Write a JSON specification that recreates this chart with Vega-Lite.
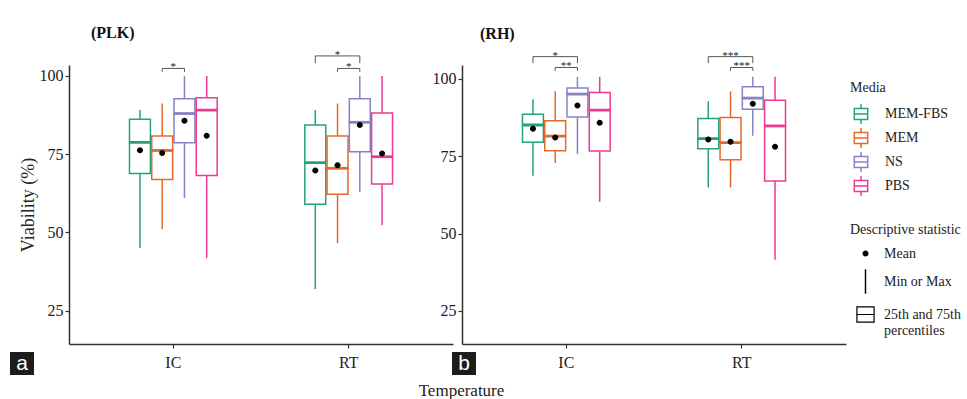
{
  "$schema": "https://vega.github.io/schema/vega-lite/v6.json",
  "padding": {"left": 10, "top": 24, "right": 2, "bottom": 4},
  "bounds": "flush",
  "spacing": 9,
  "title": {"text": "Temperature", "orient": "bottom", "anchor": "middle", "fontSize": 17, "fontWeight": "normal", "color": "#222", "offset": 8, "dx": -24},
  "datasets": {
    "boxes": [
      {"panel": "PLK", "temp": "IC", "media": "MEM-FBS", "min": 45.0, "q1": 68.8, "median": 78.8, "q3": 86.2, "max": 89.1, "mean": 76.3},
      {"panel": "PLK", "temp": "IC", "media": "MEM", "min": 51.1, "q1": 66.9, "median": 76.2, "q3": 80.8, "max": 91.2, "mean": 75.4},
      {"panel": "PLK", "temp": "IC", "media": "NS", "min": 61.0, "q1": 78.7, "median": 88.0, "q3": 92.7, "max": 100, "mean": 85.7},
      {"panel": "PLK", "temp": "IC", "media": "PBS", "min": 41.8, "q1": 68.2, "median": 89.1, "q3": 93.0, "max": 100, "mean": 80.9},
      {"panel": "PLK", "temp": "RT", "media": "MEM-FBS", "min": 31.9, "q1": 59.0, "median": 72.3, "q3": 84.3, "max": 89.1, "mean": 69.8},
      {"panel": "PLK", "temp": "RT", "media": "MEM", "min": 46.6, "q1": 62.2, "median": 70.5, "q3": 80.8, "max": 91.2, "mean": 71.5},
      {"panel": "PLK", "temp": "RT", "media": "NS", "min": 62.9, "q1": 75.8, "median": 85.2, "q3": 92.7, "max": 100, "mean": 84.3},
      {"panel": "PLK", "temp": "RT", "media": "PBS", "min": 52.3, "q1": 65.5, "median": 74.2, "q3": 88.2, "max": 100, "mean": 75.2},
      {"panel": "RH", "temp": "IC", "media": "MEM-FBS", "min": 68.7, "q1": 79.5, "median": 85.1, "q3": 88.6, "max": 93.4, "mean": 83.9},
      {"panel": "RH", "temp": "IC", "media": "MEM", "min": 72.8, "q1": 76.8, "median": 81.5, "q3": 86.5, "max": 96.0, "mean": 81.1},
      {"panel": "RH", "temp": "IC", "media": "NS", "min": 75.7, "q1": 87.7, "median": 95.1, "q3": 97.1, "max": 100.7, "mean": 91.4},
      {"panel": "RH", "temp": "IC", "media": "PBS", "min": 60.3, "q1": 76.7, "median": 89.9, "q3": 95.6, "max": 100.7, "mean": 85.8},
      {"panel": "RH", "temp": "RT", "media": "MEM-FBS", "min": 64.9, "q1": 77.4, "median": 80.7, "q3": 87.2, "max": 92.8, "mean": 80.4},
      {"panel": "RH", "temp": "RT", "media": "MEM", "min": 64.9, "q1": 73.9, "median": 79.4, "q3": 87.5, "max": 96.0, "mean": 79.7},
      {"panel": "RH", "temp": "RT", "media": "NS", "min": 81.6, "q1": 90.2, "median": 93.8, "q3": 97.5, "max": 100.7, "mean": 92.0},
      {"panel": "RH", "temp": "RT", "media": "PBS", "min": 41.5, "q1": 67.0, "median": 84.8, "q3": 93.1, "max": 100.7, "mean": 78.1}
    ],
    "brackets": [
      {"panel": "PLK", "temp": "IC", "id": "p1", "o": 0, "media": "MEM", "v": 101.3},
      {"panel": "PLK", "temp": "IC", "id": "p1", "o": 1, "media": "MEM", "v": 102.4},
      {"panel": "PLK", "temp": "IC", "id": "p1", "o": 2, "media": "NS", "v": 102.4},
      {"panel": "PLK", "temp": "IC", "id": "p1", "o": 3, "media": "NS", "v": 101.3},
      {"panel": "PLK", "temp": "RT", "id": "p2", "o": 0, "media": "MEM-FBS", "v": 104.1},
      {"panel": "PLK", "temp": "RT", "id": "p2", "o": 1, "media": "MEM-FBS", "v": 106.4},
      {"panel": "PLK", "temp": "RT", "id": "p2", "o": 2, "media": "NS", "v": 106.4},
      {"panel": "PLK", "temp": "RT", "id": "p2", "o": 3, "media": "NS", "v": 104.1},
      {"panel": "PLK", "temp": "RT", "id": "p3", "o": 0, "media": "MEM", "v": 101.3},
      {"panel": "PLK", "temp": "RT", "id": "p3", "o": 1, "media": "MEM", "v": 102.4},
      {"panel": "PLK", "temp": "RT", "id": "p3", "o": 2, "media": "NS", "v": 102.4},
      {"panel": "PLK", "temp": "RT", "id": "p3", "o": 3, "media": "NS", "v": 101.3},
      {"panel": "RH", "temp": "IC", "id": "r1", "o": 0, "media": "MEM-FBS", "v": 105.1},
      {"panel": "RH", "temp": "IC", "id": "r1", "o": 1, "media": "MEM-FBS", "v": 107.2},
      {"panel": "RH", "temp": "IC", "id": "r1", "o": 2, "media": "NS", "v": 107.2},
      {"panel": "RH", "temp": "IC", "id": "r1", "o": 3, "media": "NS", "v": 105.1},
      {"panel": "RH", "temp": "IC", "id": "r2", "o": 0, "media": "MEM", "v": 102.6},
      {"panel": "RH", "temp": "IC", "id": "r2", "o": 1, "media": "MEM", "v": 103.7},
      {"panel": "RH", "temp": "IC", "id": "r2", "o": 2, "media": "NS", "v": 103.7},
      {"panel": "RH", "temp": "IC", "id": "r2", "o": 3, "media": "NS", "v": 102.6},
      {"panel": "RH", "temp": "RT", "id": "r3", "o": 0, "media": "MEM-FBS", "v": 105.1},
      {"panel": "RH", "temp": "RT", "id": "r3", "o": 1, "media": "MEM-FBS", "v": 107.2},
      {"panel": "RH", "temp": "RT", "id": "r3", "o": 2, "media": "NS", "v": 107.2},
      {"panel": "RH", "temp": "RT", "id": "r3", "o": 3, "media": "NS", "v": 105.1},
      {"panel": "RH", "temp": "RT", "id": "r4", "o": 0, "media": "MEM", "v": 102.6},
      {"panel": "RH", "temp": "RT", "id": "r4", "o": 1, "media": "MEM", "v": 103.7},
      {"panel": "RH", "temp": "RT", "id": "r4", "o": 2, "media": "NS", "v": 103.7},
      {"panel": "RH", "temp": "RT", "id": "r4", "o": 3, "media": "NS", "v": 102.6}
    ],
    "stars": [
      {"panel": "PLK", "temp": "IC", "at": "center", "media": "MEM", "v": 102.4, "label": "*"},
      {"panel": "PLK", "temp": "RT", "at": "media", "media": "MEM", "v": 106.4, "label": "*"},
      {"panel": "PLK", "temp": "RT", "at": "center", "media": "MEM", "v": 102.4, "label": "*"},
      {"panel": "RH", "temp": "IC", "at": "media", "media": "MEM", "v": 107.2, "label": "*"},
      {"panel": "RH", "temp": "IC", "at": "center", "media": "MEM", "v": 103.7, "label": "**"},
      {"panel": "RH", "temp": "RT", "at": "media", "media": "MEM", "v": 107.2, "label": "***"},
      {"panel": "RH", "temp": "RT", "at": "center", "media": "MEM", "v": 103.7, "label": "***"}
    ]
  },
  "hconcat": [
    {
      "width": 384, "height": 279,
      "title": {"text": "(PLK)", "anchor": "start", "frame": "group", "dx": 22, "fontSize": 16, "fontWeight": "bold", "offset": 8, "color": "#111"},
      "layer": [
        {
          "data": {"name": "boxes"}, "transform": [{"filter": "datum.panel == 'PLK'"}],
          "mark": {"type": "rule", "strokeWidth": 1.5},
          "encoding": {
            "x": {"field": "temp", "type": "nominal", "scale": {"domain": ["IC", "RT"], "paddingInner": 0.5, "paddingOuter": 0.345}, "axis": {"title": null, "labelAngle": 0}},
            "xOffset": {"field": "media", "type": "nominal", "scale": {"domain": ["MEM-FBS", "MEM", "NS", "PBS"], "paddingInner": 0.06, "paddingOuter": 0}},
            "y": {"field": "min", "type": "quantitative", "title": "Viability (%)", "scale": {"domain": [14.37, 103.5], "nice": false, "zero": false}, "axis": {"values": [25, 50, 75, 100]}},
            "y2": {"field": "max"},
            "stroke": {"field": "media", "type": "nominal", "scale": {"domain": ["MEM-FBS", "MEM", "NS", "PBS"], "range": ["#23A27B", "#E5692A", "#8782C6", "#EC3A94"]},
              "legend": {"title": ["", "Media"], "titleLineHeight": 16, "symbolType": "M0,-1V-0.55M-0.67,-0.55H0.67V0.55H-0.67ZM-0.67,0H0.67M0,0.55V1", "symbolSize": 400, "symbolFillColor": "white", "symbolStrokeWidth": 1.5, "rowPadding": -2, "labelOffset": 13, "titlePadding": 8, "padding": 0, "offset": 4}}
          }
        },
        {
          "data": {"name": "boxes"}, "transform": [{"filter": "datum.panel == 'PLK'"}],
          "mark": {"type": "bar", "fill": "white", "strokeWidth": 1.5},
          "encoding": {
            "x": {"field": "temp", "type": "nominal"},
            "xOffset": {"field": "media", "type": "nominal"},
            "y": {"field": "q1", "type": "quantitative", "title": "Viability (%)"},
            "y2": {"field": "q3"},
            "stroke": {"field": "media", "type": "nominal"}
          }
        },
        {
          "data": {"name": "boxes"}, "transform": [{"filter": "datum.panel == 'PLK'"}],
          "mark": {"type": "tick", "filled": false, "thickness": 1.2, "strokeWidth": 1.6, "size": 20.6, "orient": "horizontal", "opacity": 1},
          "encoding": {
            "x": {"field": "temp", "type": "nominal"},
            "xOffset": {"field": "media", "type": "nominal"},
            "y": {"field": "median", "type": "quantitative", "title": "Viability (%)"},
            "stroke": {"field": "media", "type": "nominal"},
            "opacity": {"datum": "a", "type": "ordinal", "scale": {"range": [1, 1]},
              "legend": {"title": "a", "orient": "none", "legendX": -59, "legendY": 287, "fillColor": "#1c1c1c", "padding": 1, "titleColor": "white", "titleFont": "Liberation Sans", "titleFontSize": 21, "titleFontWeight": "normal", "titleAnchor": "middle", "titlePadding": -2, "symbolSize": 0, "symbolOpacity": 0, "symbolStrokeWidth": 0, "labelExpr": "''", "labelFontSize": 1, "labelOffset": 21, "rowPadding": 0}}
          }
        },
        {
          "data": {"name": "boxes"}, "transform": [{"filter": "datum.panel == 'PLK'"}],
          "mark": {"type": "point", "filled": true, "color": "black", "opacity": 1, "size": 600},
          "encoding": {
            "x": {"field": "temp", "type": "nominal"},
            "xOffset": {"field": "media", "type": "nominal"},
            "y": {"field": "mean", "type": "quantitative", "title": "Viability (%)"},
            "shape": {"datum": "Mean", "type": "nominal",
              "scale": {"domain": ["Mean", "Min or Max", "25th and 75th percentiles"], "range": ["M-0.245,0A0.245,0.245 0 1,0 0.245,0A0.245,0.245 0 1,0 -0.245,0Z", "M-0.06,-1H0.06V1H-0.06Z", "M-0.75,-0.68H0.75V0.68H-0.75ZM-0.65,-0.58V-0.05H0.65V-0.58ZM-0.65,0.05V0.58H0.65V0.05Z"]},
              "legend": {"title": ["", "Descriptive statistic"], "titleLineHeight": 16, "symbolSize": 600, "symbolFillColor": "black", "symbolStrokeColor": "black", "symbolStrokeWidth": 0, "symbolOffset": 3, "rowPadding": 8, "labelOffset": 6, "titlePadding": 4, "padding": 0, "offset": 4,
                "labelExpr": "datum.label == '25th and 75th percentiles' ? ['25th and 75th', 'percentiles'] : datum.label"}}
          }
        },
        {
          "data": {"name": "brackets"}, "transform": [{"filter": "datum.panel == 'PLK'"}],
          "mark": {"type": "line", "color": "#555", "strokeWidth": 1},
          "encoding": {
            "x": {"field": "temp", "type": "nominal"},
            "xOffset": {"field": "media", "type": "nominal"},
            "y": {"field": "v", "type": "quantitative", "title": "Viability (%)"},
            "detail": {"field": "id"},
            "order": {"field": "o"}
          }
        },
        {
          "data": {"name": "stars"}, "transform": [{"filter": "datum.panel == 'PLK' && datum.at == 'media'"}],
          "mark": {"type": "text", "fontSize": 11, "baseline": "alphabetic", "dy": 2, "color": "#222"},
          "encoding": {
            "x": {"field": "temp", "type": "nominal"},
            "xOffset": {"field": "media", "type": "nominal"},
            "y": {"field": "v", "type": "quantitative", "title": "Viability (%)"},
            "text": {"field": "label"}
          }
        },
        {
          "data": {"name": "stars"}, "transform": [{"filter": "datum.panel == 'PLK' && datum.at == 'center'"}],
          "mark": {"type": "text", "fontSize": 11, "baseline": "alphabetic", "dy": 2, "color": "#222"},
          "encoding": {
            "x": {"field": "temp", "type": "nominal"},
            "y": {"field": "v", "type": "quantitative", "title": "Viability (%)"},
            "text": {"field": "label"}
          }
        }
      ]
    },
    {
      "width": 384, "height": 279,
      "title": {"text": "(RH)", "anchor": "start", "frame": "group", "dx": 18, "fontSize": 16, "fontWeight": "bold", "offset": 8, "color": "#111"},
      "layer": [
        {
          "data": {"name": "boxes"}, "transform": [{"filter": "datum.panel == 'RH'"}],
          "mark": {"type": "rule", "strokeWidth": 1.5},
          "encoding": {
            "x": {"field": "temp", "type": "nominal", "scale": {"domain": ["IC", "RT"], "paddingInner": 0.5, "paddingOuter": 0.345}, "axis": {"title": null, "labelAngle": 0}},
            "xOffset": {"field": "media", "type": "nominal", "scale": {"domain": ["MEM-FBS", "MEM", "NS", "PBS"], "paddingInner": 0.06, "paddingOuter": 0}},
            "y": {"field": "min", "type": "quantitative", "title": null, "scale": {"domain": [14.3, 104.5], "nice": false, "zero": false}, "axis": {"values": [25, 50, 75, 100]}},
            "y2": {"field": "max"},
            "stroke": {"field": "media", "type": "nominal",
              "legend": {"title": ["", "Media"], "titleLineHeight": 16, "symbolType": "M0,-1V-0.55M-0.67,-0.55H0.67V0.55H-0.67ZM-0.67,0H0.67M0,0.55V1", "symbolSize": 400, "symbolFillColor": "white", "symbolStrokeWidth": 1.5, "rowPadding": -2, "labelOffset": 13, "titlePadding": 8, "padding": 0, "offset": 4}}
          }
        },
        {
          "data": {"name": "boxes"}, "transform": [{"filter": "datum.panel == 'RH'"}],
          "mark": {"type": "bar", "fill": "white", "strokeWidth": 1.5},
          "encoding": {
            "x": {"field": "temp", "type": "nominal"},
            "xOffset": {"field": "media", "type": "nominal"},
            "y": {"field": "q1", "type": "quantitative", "title": null},
            "y2": {"field": "q3"},
            "stroke": {"field": "media", "type": "nominal"}
          }
        },
        {
          "data": {"name": "boxes"}, "transform": [{"filter": "datum.panel == 'RH'"}],
          "mark": {"type": "tick", "filled": false, "thickness": 1.2, "strokeWidth": 1.6, "size": 20.6, "orient": "horizontal", "opacity": 1},
          "encoding": {
            "x": {"field": "temp", "type": "nominal"},
            "xOffset": {"field": "media", "type": "nominal"},
            "y": {"field": "median", "type": "quantitative", "title": null},
            "stroke": {"field": "media", "type": "nominal"},
            "opacity": {"datum": "b", "type": "ordinal", "scale": {"range": [1, 1]},
              "legend": {"title": "b", "orient": "none", "legendX": -10, "legendY": 287, "fillColor": "#1c1c1c", "padding": 1, "titleColor": "white", "titleFont": "Liberation Sans", "titleFontSize": 21, "titleFontWeight": "normal", "titleAnchor": "middle", "titlePadding": -2, "symbolSize": 0, "symbolOpacity": 0, "symbolStrokeWidth": 0, "labelExpr": "''", "labelFontSize": 1, "labelOffset": 21, "rowPadding": 0}}
          }
        },
        {
          "data": {"name": "boxes"}, "transform": [{"filter": "datum.panel == 'RH'"}],
          "mark": {"type": "point", "filled": true, "color": "black", "opacity": 1, "size": 600},
          "encoding": {
            "x": {"field": "temp", "type": "nominal"},
            "xOffset": {"field": "media", "type": "nominal"},
            "y": {"field": "mean", "type": "quantitative", "title": null},
            "shape": {"datum": "Mean", "type": "nominal",
              "legend": {"title": ["", "Descriptive statistic"], "titleLineHeight": 16, "symbolSize": 600, "symbolFillColor": "black", "symbolStrokeColor": "black", "symbolStrokeWidth": 0, "symbolOffset": 3, "rowPadding": 8, "labelOffset": 6, "titlePadding": 4, "padding": 0, "offset": 4,
                "labelExpr": "datum.label == '25th and 75th percentiles' ? ['25th and 75th', 'percentiles'] : datum.label"}}
          }
        },
        {
          "data": {"name": "brackets"}, "transform": [{"filter": "datum.panel == 'RH'"}],
          "mark": {"type": "line", "color": "#555", "strokeWidth": 1},
          "encoding": {
            "x": {"field": "temp", "type": "nominal"},
            "xOffset": {"field": "media", "type": "nominal"},
            "y": {"field": "v", "type": "quantitative", "title": null},
            "detail": {"field": "id"},
            "order": {"field": "o"}
          }
        },
        {
          "data": {"name": "stars"}, "transform": [{"filter": "datum.panel == 'RH' && datum.at == 'media'"}],
          "mark": {"type": "text", "fontSize": 11, "baseline": "alphabetic", "dy": 2, "color": "#222"},
          "encoding": {
            "x": {"field": "temp", "type": "nominal"},
            "xOffset": {"field": "media", "type": "nominal"},
            "y": {"field": "v", "type": "quantitative", "title": null},
            "text": {"field": "label"}
          }
        },
        {
          "data": {"name": "stars"}, "transform": [{"filter": "datum.panel == 'RH' && datum.at == 'center'"}],
          "mark": {"type": "text", "fontSize": 11, "baseline": "alphabetic", "dy": 2, "color": "#222"},
          "encoding": {
            "x": {"field": "temp", "type": "nominal"},
            "y": {"field": "v", "type": "quantitative", "title": null},
            "text": {"field": "label"}
          }
        }
      ]
    }
  ],
  "resolve": {"scale": {"y": "independent", "opacity": "independent"}, "legend": {"opacity": "independent"}},
  "config": {
    "font": "Liberation Serif",
    "view": {"stroke": null},
    "axis": {"grid": false, "domainColor": "#333", "domainWidth": 1.5, "tickColor": "#333", "tickSize": 4, "tickWidth": 1.2, "labelColor": "#222", "labelFontSize": 16, "labelPadding": 2, "titleFontSize": 18, "titleFontWeight": "normal", "titleColor": "#222", "titlePadding": 2},
    "axisX": {"labelPadding": 6},
    "legend": {"labelFontSize": 14, "titleFontSize": 14, "titleFontWeight": "normal", "titleColor": "#222", "labelColor": "#222"}
  }
}
